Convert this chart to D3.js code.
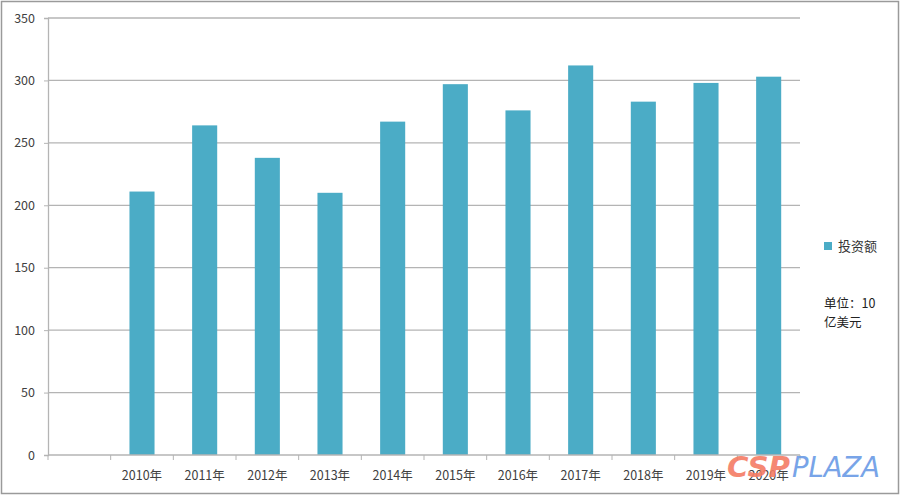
<!DOCTYPE html>
<html><head><meta charset="utf-8">
<script src="https://cdn.jsdelivr.net/npm/d3@7"></script>
<style>body{margin:0;background:#fff}svg{display:block}</style>
</head><body>
<svg id="c" width="901" height="497"></svg>
<script>
const categories = ["", "2010年","2011年","2012年","2013年","2014年","2015年","2016年","2017年","2018年","2019年","2020年"];
const values = [null, 211, 264, 238, 210, 267, 297, 276, 312, 283, 298, 303];
const yTicks = [0,50,100,150,200,250,300,350];
const seriesName = "投资额";
const unitLines = ["单位：10", "亿美元"];

const svg = d3.select("#c");
const font = "'Noto Sans CJK SC', 'DejaVu Sans', sans-serif";
svg.append("rect").attr("x",1.5).attr("y",1.5).attr("width",897).attr("height",492)
  .attr("fill","#fff").attr("stroke","#9a9a9a").attr("stroke-width",1.5);

const x0 = 48, x1 = 800, yTop = 18, yBot = 455;
const x = d3.scaleBand().domain(d3.range(categories.length)).range([x0,x1]).paddingInner(0.6).paddingOuter(0.3);
const xb = d3.scaleBand().domain(d3.range(categories.length)).range([x0,x1]);
const y = d3.scaleLinear().domain([0,350]).range([yBot,yTop]);

// gridlines
svg.append("g").selectAll("line").data(yTicks.filter(d=>d>0)).join("line")
  .attr("x1",x0).attr("x2",x1).attr("y1",d=>y(d)).attr("y2",d=>y(d))
  .attr("stroke","#b4b4b4").attr("stroke-width",1.3);

// y axis
const ya = svg.append("g").attr("transform",`translate(${x0},0)`)
  .call(d3.axisLeft(y).tickValues(yTicks).tickSize(4).tickPadding(9));
ya.select(".domain").attr("stroke","#b4b4b4").attr("stroke-width",1.3);
ya.selectAll(".tick line").attr("stroke","#b4b4b4");
ya.selectAll("text").attr("font-family",font).attr("font-size",12.5).attr("fill","#404040");

// bars
svg.append("g").selectAll("rect").data(values.map((v,i)=>({v,i})).filter(d=>d.v!=null)).join("rect")
  .attr("x",d=>x(d.i)).attr("width",x.bandwidth())
  .attr("y",d=>y(d.v)).attr("height",d=>yBot-y(d.v)).attr("fill","#4BACC6");

// x axis
const xa = svg.append("g").attr("transform",`translate(0,${yBot})`);
xa.append("line").attr("x1",x0).attr("x2",x1).attr("stroke","#b4b4b4").attr("stroke-width",1.3);
xa.selectAll(".tk").data(d3.range(categories.length+1)).join("line").attr("class","tk")
  .attr("x1",i=>x0+i*xb.step()).attr("x2",i=>x0+i*xb.step()).attr("y1",0).attr("y2",5)
  .attr("stroke","#b4b4b4");
xa.selectAll("text").data(categories).join("text")
  .attr("x",(d,i)=>xb(i)+xb.bandwidth()/2).attr("y",25).attr("text-anchor","middle")
  .attr("font-family",font).attr("font-size",12.5).attr("fill","#404040").text(d=>d);

// legend
svg.append("rect").attr("x",824).attr("y",242).attr("width",8).attr("height",8).attr("fill","#4BACC6");
svg.append("text").attr("x",838).attr("y",251).attr("font-family",font).attr("font-size",13).attr("fill","#333").text(seriesName);
svg.append("g").selectAll("text").data(unitLines).join("text")
  .attr("x",824).attr("y",(d,i)=>308+i*19).attr("font-family",font).attr("font-size",12.5).attr("fill","#222").text(d=>d);

// watermark
svg.append("text").attr("x",727).attr("y",477).attr("font-family","'DejaVu Sans', sans-serif")
  .attr("font-style","italic").attr("font-weight","bold").attr("font-size",29)
  .attr("textLength",63).attr("lengthAdjust","spacingAndGlyphs")
  .attr("fill","#f47c64").attr("opacity",0.9).text("CSP");
svg.append("text").attr("x",792).attr("y",477).attr("font-family","'DejaVu Sans', sans-serif")
  .attr("font-style","italic").attr("font-size",29)
  .attr("textLength",88).attr("lengthAdjust","spacingAndGlyphs")
  .attr("fill","#6a9be6").attr("opacity",0.9).text("PLAZA");
</script>
</body></html>
